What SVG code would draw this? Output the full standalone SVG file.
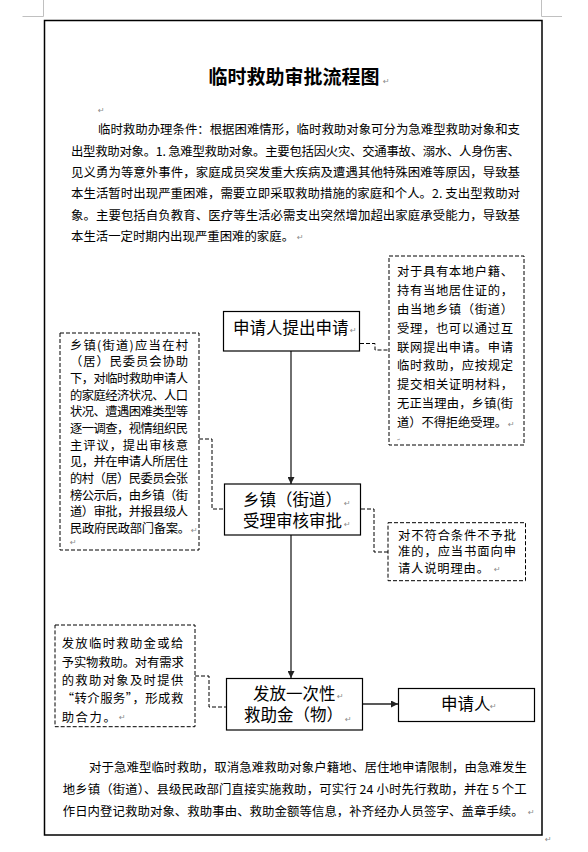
<svg xmlns="http://www.w3.org/2000/svg" width="588" height="852" viewBox="0 0 588 852">
<style>
  .t { font-family: "Noto Sans CJK SC", "Liberation Sans", sans-serif; fill: #000; }
  .p { font-size: 12.4px; }
  .n { font-size: 12.3px; }
  .b { font-size: 16.5px; }
  .title { font-size: 19px; font-weight: bold; }
  .pm { font-family: "DejaVu Sans", sans-serif; font-size: 8px; fill: #8a8a8a; }
  .box { fill: #fff; stroke: #000; stroke-width: 1.2; }
  .note { fill: #fff; stroke: #000; stroke-width: 1; stroke-dasharray: 4 2; }
  .dash { fill: none; stroke: #000; stroke-width: 1; stroke-dasharray: 4 2; }
  .arr { fill: none; stroke: #222; stroke-width: 1.3; }
  .mark { fill: none; stroke: #c0c0c0; stroke-width: 1; }
</style>
<defs>
  <marker id="ah" viewBox="0 0 10 10" refX="10" refY="5" markerWidth="7" markerHeight="7" markerUnits="userSpaceOnUse" orient="auto">
    <path d="M0,0 L10,5 L0,10 z" fill="#222"/>
  </marker>
</defs>
<rect width="588" height="852" fill="#fff"/>

<g id="page">
  <path class="mark" d="M22.5,16.5 H43.5 V0"/>
  <path class="mark" d="M541.5,0 V16.5 H562"/>
  <rect x="44.5" y="20.5" width="497.5" height="814.5" fill="none" stroke="#000" stroke-width="1.5"/>
  <text class="pm" x="545" y="842">↵</text>
</g>

<g id="title">
  <text class="t title" x="208.5" y="84">临时救助审批流程图</text>
  <text class="pm" x="383" y="84">↵</text>
  <text class="pm" x="98" y="113">↵</text>
</g>

<g id="intro">
  <text class="t p" x="98" y="134" textLength="422" lengthAdjust="spacing">临时救助办理条件：根据困难情形，临时救助对象可分为急难型救助对象和支</text>
  <text class="t p" x="71" y="155.5" textLength="449" lengthAdjust="spacing">出型救助对象。1. 急难型救助对象。主要包括因火灾、交通事故、溺水、人身伤害、</text>
  <text class="t p" x="71" y="177" textLength="449" lengthAdjust="spacing">见义勇为等意外事件，家庭成员突发重大疾病及遭遇其他特殊困难等原因，导致基</text>
  <text class="t p" x="71" y="198" textLength="449" lengthAdjust="spacing">本生活暂时出现严重困难，需要立即采取救助措施的家庭和个人。2. 支出型救助对</text>
  <text class="t p" x="71" y="219.5" textLength="449" lengthAdjust="spacing">象。主要包括自负教育、医疗等生活必需支出突然增加超出家庭承受能力，导致基</text>
  <text class="t p" x="71" y="240.5">本生活一定时期内出现严重困难的家庭。</text>
  <text class="pm" x="297" y="240">↵</text>
</g>

<g id="connectors">
  <line class="arr" x1="291" y1="351" x2="291" y2="484" marker-end="url(#ah)"/>
  <line class="arr" x1="291" y1="535" x2="291" y2="678" marker-end="url(#ah)"/>
  <line class="arr" x1="363" y1="704" x2="398" y2="704" marker-end="url(#ah)"/>
  <path class="dash" d="M360,343.5 H375 V350 H389"/>
  <path class="dash" d="M199,439 H212 V509 H224.5"/>
  <path class="dash" d="M361,509 H374 V552 H388"/>
  <path class="dash" d="M195,676 H209 V707 H226.5"/>
</g>

<g id="n-apply">
  <rect class="box" x="223.5" y="311.5" width="136" height="39.5"/>
  <text class="t b" x="233" y="334">申请人提出申请</text>
  <text class="pm" x="350" y="333">↵</text>
</g>

<g id="n-review">
  <rect class="box" x="224.5" y="484" width="136" height="51"/>
  <text class="t b" x="243" y="506">乡镇（街道）</text>
  <text class="pm" x="344" y="506">↵</text>
  <text class="t b" x="243" y="527">受理审核审批</text>
  <text class="pm" x="344" y="527">↵</text>
</g>

<g id="n-pay">
  <rect class="box" x="226.5" y="678.5" width="136" height="51.5"/>
  <text class="t b" x="253" y="699.5">发放一次性</text>
  <text class="pm" x="337" y="699">↵</text>
  <text class="t b" x="244" y="721">救助金（物）</text>
  <text class="pm" x="345" y="722">↵</text>
</g>

<g id="n-applicant">
  <rect class="box" x="398.5" y="688.5" width="136" height="33"/>
  <text class="t b" x="441" y="709.5">申请人</text>
  <text class="pm" x="490" y="709">↵</text>
</g>

<g id="note-apply">
  <rect class="note" x="389" y="256" width="135" height="189"/>
  <text class="t n" x="397" y="275.5" textLength="116" lengthAdjust="spacing">对于具有本地户籍、</text>
  <text class="t n" x="397" y="294.5" textLength="116" lengthAdjust="spacing">持有当地居住证的，</text>
  <text class="t n" x="397" y="313.5" textLength="116" lengthAdjust="spacing">由当地乡镇（街道）</text>
  <text class="t n" x="397" y="332.5" textLength="116" lengthAdjust="spacing">受理，也可以通过互</text>
  <text class="t n" x="397" y="351.5" textLength="116" lengthAdjust="spacing">联网提出申请。申请</text>
  <text class="t n" x="397" y="370" textLength="116" lengthAdjust="spacing">临时救助，应按规定</text>
  <text class="t n" x="397" y="389" textLength="116" lengthAdjust="spacing">提交相关证明材料，</text>
  <text class="t n" x="397" y="408" textLength="116" lengthAdjust="spacing">无正当理由，乡镇(街</text>
  <text class="t n" x="397" y="427" textLength="110" lengthAdjust="spacing">道）不得拒绝受理。</text>
  <text class="pm" x="508" y="427">↵</text>
  <text class="pm" x="397" y="441" style="font-size:4px">↵</text>
</g>

<g id="note-review">
  <rect class="note" x="60" y="333" width="139" height="217"/>
  <text class="t n" x="70" y="349.5" textLength="118" lengthAdjust="spacing">乡镇(街道)应当在村</text>
  <text class="t n" x="70" y="366" textLength="118" lengthAdjust="spacing">（居）民委员会协助</text>
  <text class="t n" x="70" y="383" textLength="118" lengthAdjust="spacing">下，对临时救助申请人</text>
  <text class="t n" x="70" y="399.5" textLength="118" lengthAdjust="spacing">的家庭经济状况、人口</text>
  <text class="t n" x="70" y="416" textLength="118" lengthAdjust="spacing">状况、遭遇困难类型等</text>
  <text class="t n" x="70" y="433" textLength="118" lengthAdjust="spacing">逐一调查，视情组织民</text>
  <text class="t n" x="70" y="449.5" textLength="118" lengthAdjust="spacing">主评议，提出审核意</text>
  <text class="t n" x="70" y="466" textLength="118" lengthAdjust="spacing">见，并在申请人所居住</text>
  <text class="t n" x="70" y="483" textLength="118" lengthAdjust="spacing">的村（居）民委员会张</text>
  <text class="t n" x="70" y="499.5" textLength="118" lengthAdjust="spacing">榜公示后，由乡镇（街</text>
  <text class="t n" x="70" y="516" textLength="118" lengthAdjust="spacing">道）审批，并报县级人</text>
  <text class="t n" x="70" y="533" textLength="120" lengthAdjust="spacing">民政府民政部门备案。</text>
  <text class="pm" x="191" y="533">↵</text>
  <text class="pm" x="70" y="545">↵</text>
</g>

<g id="note-reject">
  <rect class="note" x="388" y="522.7" width="137.5" height="58"/>
  <text class="t n" x="398" y="539.5" textLength="118" lengthAdjust="spacing">对不符合条件不予批</text>
  <text class="t n" x="398" y="556" textLength="118" lengthAdjust="spacing">准的，应当书面向申</text>
  <text class="t n" x="398" y="573" textLength="91" lengthAdjust="spacing">请人说明理由。</text>
  <text class="pm" x="494" y="572">↵</text>
</g>

<g id="note-pay">
  <rect class="note" x="55" y="625" width="140" height="101.7"/>
  <text class="t n" x="61.7" y="648" textLength="121.5" lengthAdjust="spacing">发放临时救助金或给</text>
  <text class="t n" x="61.7" y="666.5" textLength="122" lengthAdjust="spacing">予实物救助。对有需求</text>
  <text class="t n" x="61.7" y="684.5" textLength="121.5" lengthAdjust="spacing">的救助对象及时提供</text>
  <text class="t n" x="61.7" y="703" textLength="121.5" lengthAdjust="spacing">“转介服务”，形成救</text>
  <text class="t n" x="61.7" y="721.5" textLength="54" lengthAdjust="spacing">助合力。</text>
  <text class="pm" x="119" y="720">↵</text>
</g>

<g id="closing">
  <text class="t p" x="89" y="771.5" textLength="438" lengthAdjust="spacing">对于急难型临时救助，取消急难救助对象户籍地、居住地申请限制，由急难发生</text>
  <text class="t p" x="62.7" y="794" textLength="464" lengthAdjust="spacing">地乡镇（街道）、县级民政部门直接实施救助，可实行 24 小时先行救助，并在 5 个工</text>
  <text class="t p" x="62.7" y="815.5" textLength="461" lengthAdjust="spacing">作日内登记救助对象、救助事由、救助金额等信息，补齐经办人员签字、盖章手续。</text>
  <text class="pm" x="528" y="815">↵</text>
</g>
</svg>
